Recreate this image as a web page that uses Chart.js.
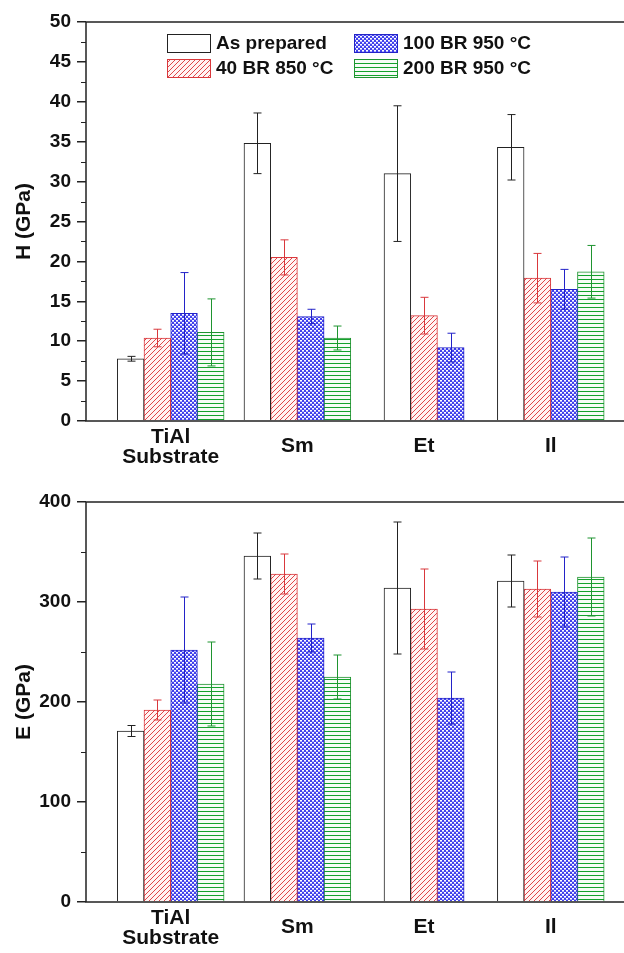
<!DOCTYPE html>
<html>
<head>
<meta charset="utf-8">
<script src="https://cdn.jsdelivr.net/npm/chart.js@4.4.1/dist/chart.umd.min.js"></script>
<style>
  body { margin: 0; background: #fff; }
  #wrap { position: relative; width: 624px; height: 953px; }
  #hChart { position: absolute; left: 0; top: 0; }
  #eChart { position: absolute; left: 0; top: 480px; }
</style>
</head>
<body>
<div id="wrap">
  <canvas id="hChart" width="624" height="480"></canvas>
  <canvas id="eChart" width="624" height="473"></canvas>
</div>
<script>
/* ======= Data ======= */
var categories = [['TiAl', 'Substrate'], 'Sm', 'Et', 'Il'];
var seriesNames = ['As prepared', '40 BR 850 °C', '100 BR 950 °C', '200 BR 950 °C'];

// hardness H (GPa)
var hAsPrepared = [7.8, 34.8, 31.0, 34.3];
var hAsPreparedErr = [0.3, 3.8, 8.5, 4.1];
var h40BR850 = [10.4, 20.5, 13.2, 17.9];
var h40BR850Err = [1.1, 2.2, 2.3, 3.1];
var h100BR950 = [13.5, 13.1, 9.2, 16.5];
var h100BR950Err = [5.1, 0.9, 1.8, 2.5];
var h200BR950 = [11.1, 10.4, null, 18.7];
var h200BR950Err = [4.2, 1.5, null, 3.3];

// elastic modulus E (GPa)
var eAsPrepared = [171, 346, 314, 321];
var eAsPreparedErr = [5.5, 23, 66, 26];
var e40BR850 = [192, 328, 293, 313];
var e40BR850Err = [10, 20, 40, 28];
var e100BR950 = [252, 264, 204, 310];
var e100BR950Err = [53, 14, 26, 35];
var e200BR950 = [218, 225, null, 325];
var e200BR950Err = [42, 22, null, 39];

var hTicks = [0, 5, 10, 15, 20, 25, 30, 35, 40, 45, 50];
var eTicks = [0, 100, 200, 300, 400];

Chart.defaults.font.family = "'Liberation Sans', Arial, sans-serif";
Chart.defaults.color = '#111';

/* ======= Fill patterns ======= */
function makePattern(kind) {
    var c = document.createElement('canvas');
    var g = c.getContext('2d');
    if (kind === 'red') {
        c.width = 5; c.height = 5;
        g.fillStyle = '#fff4f4';
        g.fillRect(0, 0, 5, 5);
        g.strokeStyle = '#e0474a';
        g.lineWidth = 1;
        g.beginPath();
        g.moveTo(-1, 6); g.lineTo(6, -1);
        g.moveTo(-1, 1); g.lineTo(1, -1);
        g.moveTo(4, 6); g.lineTo(6, 4);
        g.stroke();
    } else if (kind === 'blue') {
        c.width = 4; c.height = 4;
        g.fillStyle = '#4040ec';
        g.fillRect(0, 0, 4, 4);
        g.fillStyle = '#ffffff';
        g.fillRect(0, 0, 2, 1);
        g.fillRect(2, 2, 2, 1);
        g.fillStyle = '#b4b4f8';
        g.fillRect(0, 1, 2, 1);
        g.fillRect(2, 3, 2, 1);
    } else if (kind === 'green') {
        c.width = 4; c.height = 4;
        g.fillStyle = '#f6fcf6';
        g.fillRect(0, 0, 4, 4);
        g.fillStyle = '#14a22c';
        g.fillRect(0, 3, 4, 1);
    } else {
        c.width = 4; c.height = 4;
        g.fillStyle = '#ffffff';
        g.fillRect(0, 0, 4, 4);
    }
    return g.createPattern(c, 'repeat');
}

var fills = [makePattern('white'), makePattern('red'), makePattern('blue'), makePattern('green')];
var borders = ['#222222', '#d9383c', '#2323c8', '#1f9430'];

function toPoints(vals) {
    return vals.map(function (v, i) { return { x: i + 1, y: v }; });
}

function makeDatasets(valueSets, errSets) {
    return valueSets.map(function (vals, k) {
        return {
            label: seriesNames[k],
            data: toPoints(vals),
            errors: errSets[k],
            backgroundColor: fills[k],
            borderColor: borders[k],
            borderWidth: 1,
            barThickness: 26.7,
            skipNull: true
        };
    });
}

/* ======= Extra drawing: error bars, frame, minor ticks, labels, legend ======= */
var extrasPlugin = {
    id: 'extras',
    afterDatasetsDraw: function (chart) {
        var ctx = chart.ctx;
        var ys = chart.scales.y;
        ctx.save();
        ctx.lineWidth = 1;
        chart.data.datasets.forEach(function (ds, k) {
            var meta = chart.getDatasetMeta(k);
            ctx.strokeStyle = ds.borderColor;
            meta.data.forEach(function (bar, i) {
                var v = ds.data[i].y, e = ds.errors[i];
                if (v === null || e === null) return;
                var x = Math.round(bar.x) + 0.5;
                var yt = ys.getPixelForValue(v + e);
                var yb = ys.getPixelForValue(v - e);
                ctx.beginPath();
                ctx.moveTo(x, yt); ctx.lineTo(x, yb);
                ctx.moveTo(x - 4, yt); ctx.lineTo(x + 4, yt);
                ctx.moveTo(x - 4, yb); ctx.lineTo(x + 4, yb);
                ctx.stroke();
            });
        });
        ctx.restore();
    },
    afterDraw: function (chart, args, opts) {
        var ctx = chart.ctx;
        var a = chart.chartArea;
        var ys = chart.scales.y, xs = chart.scales.x;
        ctx.save();

        // frame (left, bottom, top)
        ctx.strokeStyle = '#222';
        ctx.lineWidth = 1.5;
        ctx.beginPath();
        ctx.moveTo(a.right, a.top); ctx.lineTo(a.left, a.top);
        ctx.lineTo(a.left, a.bottom); ctx.lineTo(a.right, a.bottom);
        ctx.stroke();

        // minor ticks
        ctx.lineWidth = 1;
        for (var v = opts.minorStep; v < ys.max; v += opts.minorStep * 2) {
            var py = Math.round(ys.getPixelForValue(v)) + 0.5;
            ctx.beginPath();
            ctx.moveTo(a.left - 5, py); ctx.lineTo(a.left, py);
            ctx.stroke();
        }

        // category labels
        ctx.fillStyle = '#111';
        ctx.font = "bold 21px 'Liberation Sans', Arial, sans-serif";
        ctx.textAlign = 'center';
        ctx.textBaseline = 'middle';
        categories.forEach(function (lab, i) {
            var px = xs.getPixelForValue(i + 1);
            if (Array.isArray(lab)) {
                ctx.fillText(lab[0], px, a.bottom + 16);
                ctx.fillText(lab[1], px, a.bottom + 36);
            } else {
                ctx.fillText(lab, px, a.bottom + 25);
            }
        });

        // legend
        if (opts.legend) {
            ctx.font = "bold 19px 'Liberation Sans', Arial, sans-serif";
            ctx.textAlign = 'left';
            opts.legend.forEach(function (pos, k) {
                ctx.fillStyle = fills[k];
                ctx.fillRect(pos[0], pos[1], 43, 18);
                ctx.strokeStyle = borders[k];
                ctx.lineWidth = 1;
                ctx.strokeRect(pos[0] + 0.5, pos[1] + 0.5, 43, 18);
                ctx.fillStyle = '#111';
                ctx.fillText(seriesNames[k], pos[0] + 49, pos[1] + 10);
            });
        }
        ctx.restore();
    }
};

/* ======= Chart builder ======= */
function buildChart(id, datasets, ticks, minorStep, title, xHeight, legend) {
    return new Chart(document.getElementById(id), {
        type: 'bar',
        data: { datasets: datasets },
        plugins: [extrasPlugin],
        options: {
            responsive: false,
            animation: false,
            devicePixelRatio: 1,
            layout: { padding: { top: 22, left: 0, right: 0, bottom: 0 } },
            plugins: {
                legend: { display: false },
                tooltip: { enabled: false },
                extras: { minorStep: minorStep, legend: legend }
            },
            scales: {
                x: {
                    type: 'linear',
                    offset: false,
                    min: 0.3315,
                    max: 4.578,
                    grid: { display: false, offset: false },
                    border: { display: false },
                    ticks: { display: false },
                    afterFit: function (s) { s.height = xHeight; }
                },
                y: {
                    min: ticks[0],
                    max: ticks[ticks.length - 1],
                    afterBuildTicks: function (s) {
                        s.ticks = ticks.map(function (t) { return { value: t }; });
                    },
                    grid: { drawOnChartArea: false, tickLength: 9, color: '#222', lineWidth: 1.5 },
                    border: { display: false },
                    ticks: {
                        padding: 6,
                        color: '#111',
                        font: { size: 19, weight: 'bold' }
                    },
                    title: {
                        display: true,
                        text: title,
                        color: '#111',
                        padding: { top: 12, bottom: 0 },
                        font: { size: 21, weight: 'bold' }
                    },
                    afterFit: function (s) { s.width = 86; }
                }
            }
        }
    });
}

buildChart('hChart',
    makeDatasets([hAsPrepared, h40BR850, h100BR950, h200BR950],
                 [hAsPreparedErr, h40BR850Err, h100BR950Err, h200BR950Err]),
    hTicks, 2.5, 'H (GPa)', 59,
    [[167, 34], [167, 59], [354, 34], [354, 59]]);

buildChart('eChart',
    makeDatasets([eAsPrepared, e40BR850, e100BR950, e200BR950],
                 [eAsPreparedErr, e40BR850Err, e100BR950Err, e200BR950Err]),
    eTicks, 50, 'E (GPa)', 51, null);
</script>
</body>
</html>
